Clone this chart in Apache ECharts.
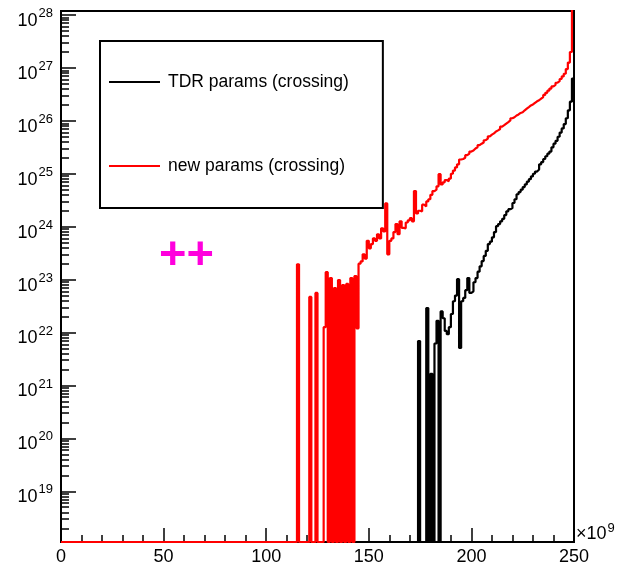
<!DOCTYPE html>
<html>
<head>
<meta charset="utf-8">
<title>Crossing rate vs. x</title>
<script src="https://cdn.jsdelivr.net/npm/echarts@6/dist/echarts.min.js"></script>
<style>
  html, body { margin: 0; padding: 0; background: #fff; }
  #chart { width: 617px; height: 571px; }
</style>
</head>
<body>
<div id="chart"></div>
<script>
// Histogram contents, one bin per unit of x (units of 1e9), bins [k, k+1).
// Bins below the first listed bin are empty.
const BIN_COUNT = 250;

const tdrFirstBin = 174;
const tdrCounts = [
  6.9e21, 0, 0, 0, 2.9e22, 0, 1.66e21, 0, 6.2e21, 1.66e22,
  0, 2.5e22, 1.86e22, 1.07e22, 9.3e21, 1.26e22, 2.24e22, 3.9e22, 5.0e22, 1.02e23,
  5.1e21, 3.9e22, 4.5e22, 6.3e22, 1.07e23, 5.6e22, 6.0e22, 8.9e22, 1.07e23, 1.41e23,
  1.78e23, 2.24e23, 2.8e23, 3.5e23, 4.7e23, 5.2e23, 6.3e23, 7.9e23, 1.02e24, 1.12e24,
  1.26e24, 1.41e24, 1.66e24, 1.95e24, 2.14e24, 2.24e24, 2.8e24, 3.3e24, 4.1e24, 4.5e24,
  5.0e24, 5.6e24, 6.3e24, 7.1e24, 7.9e24, 8.9e24, 1.0e25, 1.10e25, 1.20e25, 1.51e25,
  1.66e25, 1.9e25, 2.14e25, 2.4e25, 2.63e25, 3.16e25, 3.7e25, 4.2e25, 5.0e25, 6.0e25,
  7.2e25, 8.7e25, 1.12e26, 1.58e26, 2.3e26, 6.3e26
];

const newFirstBin = 115;
const newCounts = [
  1.95e23, 0, 0, 0, 0, 0, 4.7e22, 0, 0, 5.6e22,
  0, 0, 0, 1.26e22, 1.38e23, 0, 1.07e23, 0, 6.9e22, 0,
  9.8e22, 0, 7.9e22, 0, 8.3e22, 0, 1.07e23, 0, 1.17e23, 1.2e22,
  2.0e23, 2.2e23, 3.0e23, 2.5e23, 5.4e23, 3.9e23, 4.7e23, 6.0e23, 5.4e23, 7.2e23,
  6.0e23, 9.3e23, 8.1e23, 2.75e24, 3.0e23, 5.4e23, 6.0e23, 7.9e23, 1.12e24, 7.2e23,
  1.26e24, 9.5e23, 9.3e23, 1.2e24, 1.32e24, 1.45e24, 1.26e24, 4.7e24, 1.78e24, 2.0e24,
  1.95e24, 2.6e24, 2.4e24, 3.0e24, 3.3e24, 4.0e24, 4.7e24, 5.0e24, 5.8e24, 9.8e24,
  6.3e24, 6.9e24, 7.6e24, 7.2e24, 8.1e24, 1.0e25, 1.15e25, 1.32e25, 1.51e25, 1.86e25,
  1.9e25, 2.0e25, 2.24e25, 2.4e25, 2.63e25, 2.75e25, 3.0e25, 3.16e25, 3.47e25, 3.7e25,
  3.9e25, 4.3e25, 4.6e25, 5.1e25, 5.5e25, 5.8e25, 6.3e25, 6.6e25, 7.0e25, 7.8e25,
  8.3e25, 8.9e25, 9.5e25, 1.02e26, 1.12e26, 1.17e26, 1.26e26, 1.32e26, 1.41e26, 1.45e26,
  1.58e26, 1.70e26, 1.82e26, 1.95e26, 2.04e26, 2.19e26, 2.34e26, 2.45e26, 2.63e26, 2.82e26,
  3.09e26, 3.39e26, 3.72e26, 4.07e26, 4.47e26, 4.79e26, 5.25e26, 5.62e26, 6.17e26, 6.92e26,
  7.76e26, 9.5e26, 1.26e27, 2.0e27, 4.0e28
];

const seriesNames = ['TDR params (crossing)', 'new params (crossing)'];
const seriesColors = ['#000000', '#ff0000'];

// Axis ranges and tick labels
const X_MIN = 0, X_MAX = 250, X_STEP = 50;
const Y_MIN = 1.1e18, Y_MAX = 1.19e28;
const yDecadeExponents = [19, 20, 21, 22, 23, 24, 25, 26, 27, 28];
const yMinorMultipliers = [2, 3, 4, 5, 6, 7, 8, 9];
const xScaleExponent = 9;

const FONT = '"Liberation Sans", Arial, Helvetica, sans-serif';

// Turn bin contents into step-line points at bin edges; empty bins sit on the floor.
function histogramPoints(firstBin, counts) {
  const pts = [];
  let last = Y_MIN;
  for (let k = 0; k < BIN_COUNT; k++) {
    const c = k < firstBin ? 0 : counts[k - firstBin];
    last = c > 0 ? c : Y_MIN;
    pts.push([k, last]);
  }
  pts.push([BIN_COUNT, last]);
  return pts;
}

const majorTickValues = yDecadeExponents.map(e => Math.pow(10, e));
const minorTickValues = [];
for (let e = 18; e <= 28; e++) {
  yMinorMultipliers.forEach(m => {
    const v = m * Math.pow(10, e);
    if (v > Y_MIN && v < Y_MAX) minorTickValues.push(v);
  });
}

const chart = echarts.init(document.getElementById('chart'), null, { renderer: 'canvas' });

const option = {
  animation: false,
  backgroundColor: '#ffffff',
  textStyle: { fontFamily: FONT },
  grid: {
    left: 61, right: 43, top: 9, bottom: 29,
    show: true, borderColor: '#000', borderWidth: 2, backgroundColor: 'transparent'
  },
  legend: {
    left: 100, top: 41,
    orient: 'vertical',
    backgroundColor: '#fff',
    borderColor: '#000', borderWidth: 2, borderRadius: 0,
    padding: [32, 34, 33, 9],
    itemGap: 66,
    itemWidth: 51, itemHeight: 2,
    icon: 'rect',
    data: seriesNames,
    textStyle: { fontFamily: FONT, fontSize: 17.5, color: '#000', lineHeight: 18, padding: [0, 0, 0, 3] }
  },
  xAxis: {
    type: 'value', min: X_MIN, max: X_MAX, interval: X_STEP,
    axisLine: { lineStyle: { color: '#000', width: 2 } },
    axisTick: { inside: true, length: 14, lineStyle: { color: '#000', width: 1.5 } },
    minorTick: { show: true, splitNumber: 5, length: 7, lineStyle: { color: '#000', width: 1.5 } },
    splitLine: { show: false },
    axisLabel: { color: '#000', fontSize: 18, fontFamily: FONT, margin: 6 }
  },
  yAxis: [
    {
      type: 'log', min: Y_MIN, max: Y_MAX, position: 'left',
      axisLine: { show: true, lineStyle: { color: '#000', width: 2 } },
      axisTick: { show: true, inside: true, length: 15, customValues: majorTickValues,
                  lineStyle: { color: '#000', width: 1.5 } },
      minorTick: { show: false },
      splitLine: { show: false },
      axisLabel: {
        customValues: majorTickValues,
        margin: 8,
        formatter: function (v) {
          return '{b|10}{e|' + Math.round(Math.log10(v)) + '}';
        },
        rich: {
          b: { fontSize: 18, lineHeight: 18, fontFamily: FONT, color: '#000', padding: [12, 0, 0, 0] },
          e: { fontSize: 13, lineHeight: 13, fontFamily: FONT, color: '#000', padding: [7, 0, 10, 1] }
        }
      }
    },
    {
      type: 'log', min: Y_MIN, max: Y_MAX, position: 'left',
      axisLine: { show: false },
      axisTick: { show: true, inside: true, length: 8, customValues: minorTickValues,
                  lineStyle: { color: '#000', width: 1.5 } },
      axisLabel: { show: false },
      splitLine: { show: false }
    }
  ],
  series: [
    {
      name: seriesNames[0], type: 'line', step: 'end',
      symbol: 'none', yAxisIndex: 0, clip: true,
      color: seriesColors[0],
      lineStyle: { color: seriesColors[0], width: 2.2 },
      data: histogramPoints(tdrFirstBin, tdrCounts)
    },
    {
      name: seriesNames[1], type: 'line', step: 'end',
      symbol: 'none', yAxisIndex: 0, clip: true,
      color: seriesColors[1],
      lineStyle: { color: seriesColors[1], width: 2.2 },
      data: histogramPoints(newFirstBin, newCounts)
    }
  ],
  graphic: [
    {
      type: 'text', left: 576, top: 519,
      style: {
        text: '{a|×10}{s|' + xScaleExponent + '}',
        rich: {
          a: { fontSize: 18, lineHeight: 18, fontFamily: FONT, fill: '#000', padding: [6, 0, 0, 0] },
          s: { fontSize: 13, lineHeight: 13, fontFamily: FONT, fill: '#000', padding: [3, 0, 8, 1] }
        }
      }
    },
    {
      type: 'text', x: 186.5, y: 256.5,
      style: {
        text: '++',
        font: 'bold 47px ' + FONT,
        fill: '#ff00dd',
        align: 'center', verticalAlign: 'middle'
      }
    }
  ]
};

chart.setOption(option);
</script>
</body>
</html>
